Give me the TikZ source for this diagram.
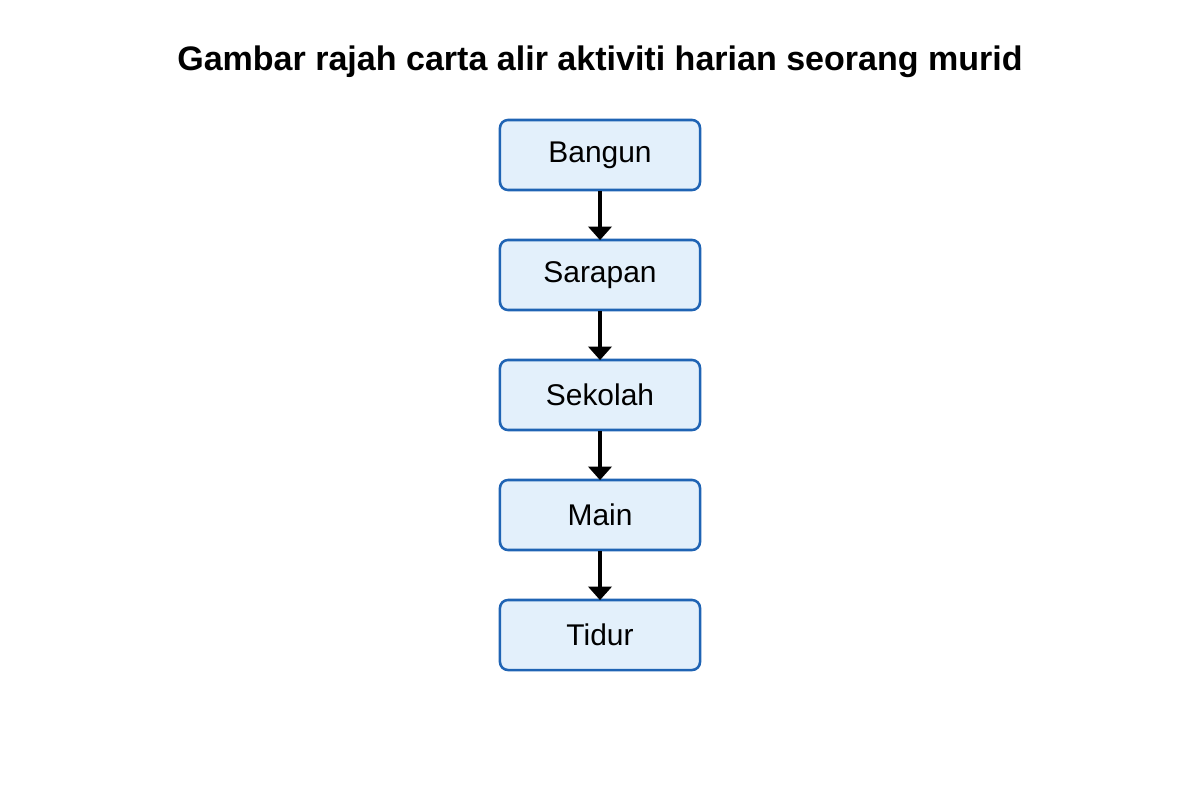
\documentclass[tikz,border=0pt]{standalone}
\usepackage{fontspec}
\setmainfont{Liberation Sans}
\usetikzlibrary{arrows.meta}
\definecolor{stepblue}{HTML}{1F64B4}
\definecolor{stepfill}{HTML}{E3F0FB}
\begin{document}
\begin{tikzpicture}[
    x=0.025cm, y=-0.025cm,
    activity/.style={
        rectangle,
        rounded corners=0.2cm,
        minimum width=5cm,
        minimum height=1.75cm,
        line width=1.8pt,
        draw=stepblue,
        fill=stepfill,
        font=\fontsize{21.3}{25}\selectfont,
        align=center
    },
    flow/.style={
        line width=2.8pt,
        shorten >=-1pt,
        -{Triangle[width=0.58cm,length=0.34cm]}
    }
]
\useasboundingbox (0,0) rectangle (1200,800);

% Title
\node[font=\bfseries\fontsize{24.2}{28}\selectfont] (title) at (600,62) {Gambar rajah carta alir aktiviti harian seorang murid};

% Activities
\node[activity] (bangun) at (600,155) {Bangun};
\node[activity] (sarapan) at (600,275) {Sarapan};
\node[activity] (sekolah) at (600,395) {Sekolah};
\node[activity] (main) at (600,515) {Main};
\node[activity] (tidur) at (600,635) {Tidur};

% Flow
\draw[flow] (bangun) -- (sarapan);
\draw[flow] (sarapan) -- (sekolah);
\draw[flow] (sekolah) -- (main);
\draw[flow] (main) -- (tidur);

\end{tikzpicture}
\end{document}
